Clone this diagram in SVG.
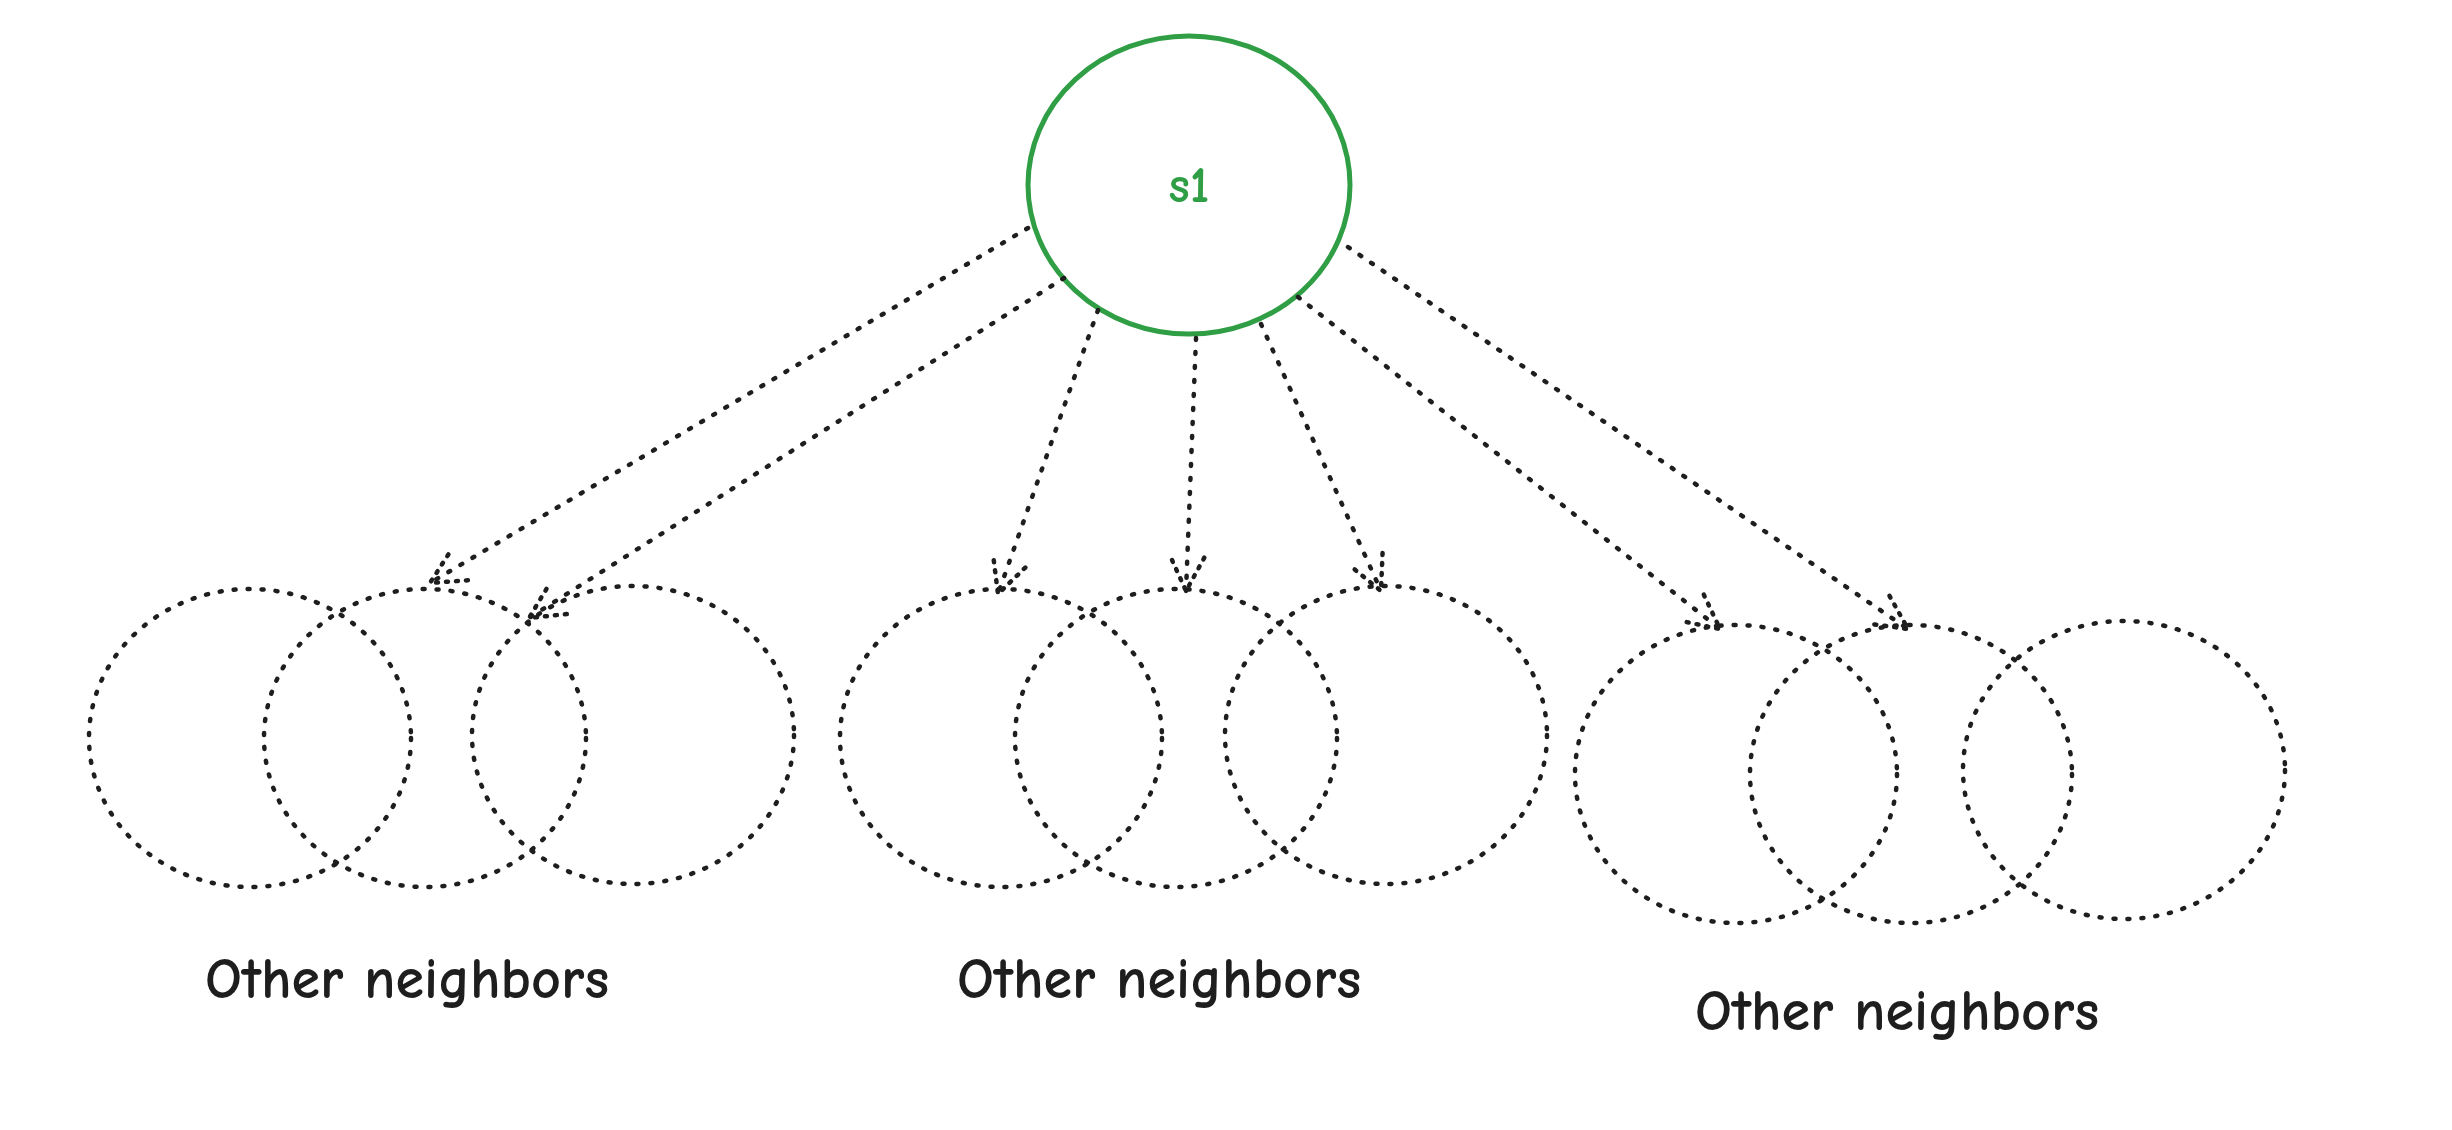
<svg xmlns="http://www.w3.org/2000/svg" width="2452" height="1130" viewBox="0 0 2452 1130">
<style>
.n{fill:none;stroke:#1e1e1e;stroke-width:4.5;stroke-dasharray:2 12;stroke-linecap:round}
.c{fill:none;stroke:#1e1e1e;stroke-width:4.5;stroke-dasharray:2 12;stroke-linecap:round}
.t{font-family:"Comic Neue","Liberation Sans",sans-serif;font-size:58px;font-weight:bold;fill:#1e1e1e;text-anchor:middle}
</style>
<defs>
<marker id="a" markerWidth="50" markerHeight="50" refX="38" refY="25" orient="auto" markerUnits="userSpaceOnUse">
<path d="M4 8 L38 25 L4 42" fill="none" stroke="#1e1e1e" stroke-width="4.5" stroke-dasharray="2 8" stroke-linecap="round"/>
</marker>
</defs>
<rect width="2452" height="1130" fill="#fff"/>
<g id="s1">
<ellipse cx="1189" cy="185" rx="161" ry="149" fill="none" stroke="#2f9e44" stroke-width="5"/>
<text x="1189" y="202" class="t" style="fill:#2f9e44;font-size:50px">s1</text>
</g>
<g id="group1">
<ellipse class="n" cx="250" cy="738" rx="161" ry="149"/>
<ellipse class="n" cx="425" cy="738" rx="161" ry="149"/>
<ellipse class="n" cx="633" cy="735" rx="161" ry="149"/>
<text class="t" x="407" y="998">Other neighbors</text>
</g>
<g id="group2">
<ellipse class="n" cx="1001" cy="738" rx="161" ry="149"/>
<ellipse class="n" cx="1176" cy="738" rx="161" ry="149"/>
<ellipse class="n" cx="1386" cy="735" rx="161" ry="149"/>
<text class="t" x="1159" y="998">Other neighbors</text>
</g>
<g id="group3">
<ellipse class="n" cx="1736" cy="774" rx="161" ry="149"/>
<ellipse class="n" cx="1911" cy="774" rx="161" ry="149"/>
<ellipse class="n" cx="2124" cy="770" rx="161" ry="149"/>
<text class="t" x="1897" y="1030">Other neighbors</text>
</g>
<g id="connectors" marker-end="url(#a)">
<line class="c" x1="1028" y1="228" x2="430" y2="583"/>
<line class="c" x1="1064" y1="278" x2="529" y2="618"/>
<line class="c" x1="1098" y1="310" x2="998" y2="594"/>
<line class="c" x1="1196" y1="338" x2="1186" y2="591"/>
<line class="c" x1="1261" y1="324" x2="1381" y2="591"/>
<line class="c" x1="1298" y1="297" x2="1720" y2="629"/>
<line class="c" x1="1348" y1="247" x2="1908" y2="629"/>
</g>
</svg>
